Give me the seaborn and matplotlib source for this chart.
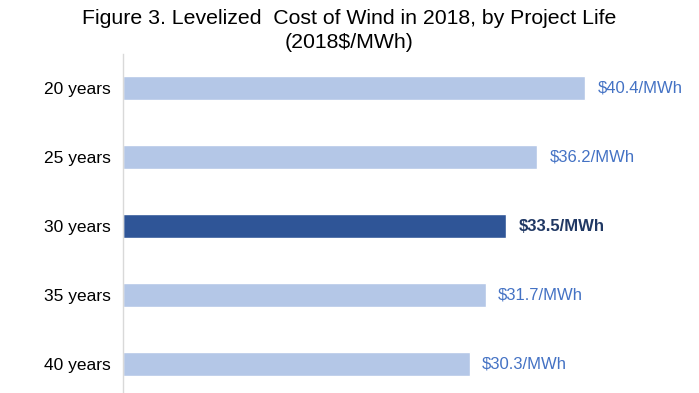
import matplotlib.pyplot as plt
import seaborn as sns
import pandas as pd

# Levelized cost by project life
life = ['20 years', '25 years', '30 years', '35 years', '40 years']
cost = [40.4, 36.2, 33.5, 31.7, 30.3]
labels = ['$40.4/MWh', '$36.2/MWh', '$33.5/MWh', '$31.7/MWh', '$30.3/MWh']
highlight = '30 years'

df = pd.DataFrame({'life': life, 'cost': cost})

sns.set_theme(style='white')
plt.rcParams['font.family'] = ['Liberation Sans', 'DejaVu Sans']

light = '#B4C7E7'
dark = '#2F5597'
palette = {l: (dark if l == highlight else light) for l in life}

fig = plt.figure(figsize=(6.99, 3.93), dpi=100)
ax = fig.add_axes([123 / 699, 0, 560 / 699, 339.5 / 393])

sns.barplot(data=df, y='life', x='cost', hue='life', palette=palette,
            order=life, width=0.36, legend=False, ax=ax, saturation=1)

ax.set_xlim(0, 560 / 11.44)
ax.set_ylim(4.42, -0.5)

# value labels
for i, (v, lab) in enumerate(zip(cost, labels)):
    if life[i] == highlight:
        ax.text(v + 1.1, i, lab, va='center', ha='left', fontsize=12,
                color='#203864', fontweight='bold')
    else:
        ax.text(v + 1.1, i, lab, va='center', ha='left', fontsize=12,
                color='#4472C4')

ax.set_xlabel('')
ax.set_ylabel('')
ax.set_xticks([])
ax.tick_params(axis='y', labelsize=12.5, colors='black', length=0, pad=9)
for s in ['top', 'right', 'bottom']:
    ax.spines[s].set_visible(False)
ax.spines['left'].set_color('#D9D9D9')
ax.spines['left'].set_linewidth(1.0)

fig.text(0.5, 1 - 18 / 393, 'Figure 3. Levelized  Cost of Wind in 2018, by Project Life',
         ha='center', va='center', fontsize=15.3, color='black')
fig.text(0.5, 1 - 42 / 393, '(2018$/MWh)', ha='center', va='center',
         fontsize=15.3, color='black')

fig.savefig('out.png', dpi=100)
